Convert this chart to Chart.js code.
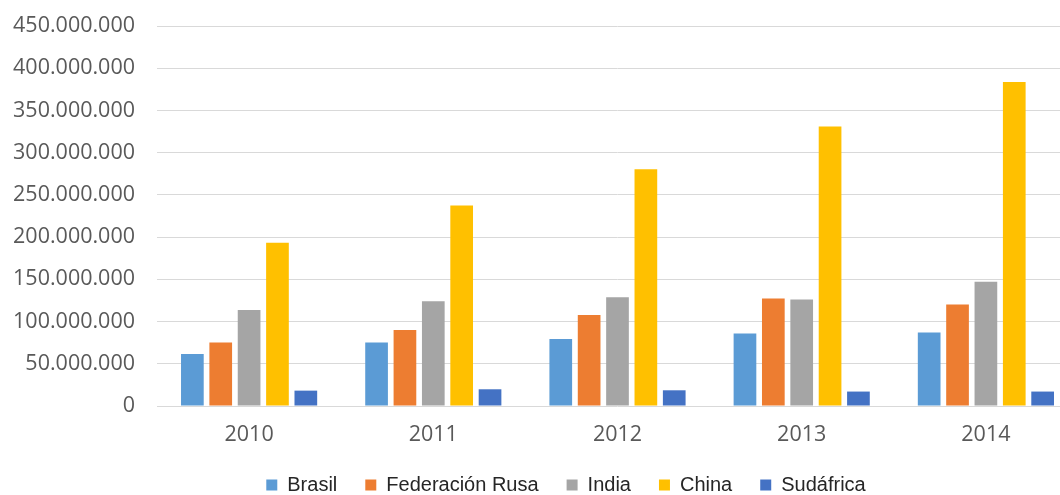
<!DOCTYPE html>
<html>
<head>
<meta charset="utf-8">
<script src="https://cdn.jsdelivr.net/npm/chart.js@4/dist/chart.umd.min.js"></script>
<style>
    html, body { margin: 0; padding: 0; background: #fff; overflow: hidden; }
    #wrap { width: 1080px; height: 495px; position: relative; }
</style>
</head>
<body>
<div id="wrap"><canvas id="bricsChart"></canvas></div>
<script>
const years = ['2010', '2011', '2012', '2013', '2014'];
const brasil = [61600000, 75100000, 79400000, 85800000, 87000000];
const rusia = [75100000, 90100000, 107800000, 127300000, 120200000];
const india = [113800000, 124100000, 128800000, 126100000, 147000000];
const china = [193200000, 237500000, 280500000, 331100000, 383600000];
const sudafrica = [18200000, 19800000, 18600000, 17100000, 17100000];

// thousands separated with dots
function formatNumber(v) {
    return String(Math.round(v)).replace(/\B(?=(\d{3})+(?!\d))/g, '.');
}

function series(label, data, color) {
    return {
        label: label,
        data: data,
        backgroundColor: color,
        borderColor: color,
        borderWidth: 0,
        categoryPercentage: 0.77,
        barPercentage: 0.8,
    };
}

// the legend sits a little right of the page centre
const legendShift = {
    id: 'legendShift',
    afterLayout(chart) {
        if (chart.legend) {
            chart.legend.left += 54;
        }
    },
};

const ctx = document.getElementById('bricsChart').getContext('2d');
const bricsChart = new Chart(ctx, {
    type: 'bar',
    data: {
        labels: years,
        datasets: [
            series('Brasil', brasil, '#5B9BD5'),
            series('Federación Rusa', rusia, '#ED7D31'),
            series('India', india, '#A5A5A5'),
            series('China', china, '#FFC000'),
            series('Sudáfrica', sudafrica, '#4472C4'),
        ],
    },
    options: {
        responsive: true,
        maintainAspectRatio: false,
        animation: false,
        layout: {
            padding: { top: 26, left: 0, right: 2, bottom: -10 },
        },
        plugins: {
            tooltip: { enabled: false },
            legend: {
                position: 'bottom',
                labels: {
                    boxWidth: 11,
                    boxHeight: 11,
                    padding: 28,
                    color: '#262626',
                    font: { family: 'Liberation Sans, Arial, sans-serif', size: 20 },
                },
            },
        },
        scales: {
            x: {
                afterFit: (scale) => { scale.height = 41; },
                grid: { display: false, drawTicks: false },
                border: { display: false },
                ticks: {
                    padding: 16,
                    color: '#595959',
                    font: { family: 'Open Sans, sans-serif', size: 21.5 },
                },
            },
            y: {
                min: 0,
                max: 450000000,
                afterFit: (scale) => {
                    scale.width = 157;
                    scale.paddingTop = 0;
                    scale.paddingBottom = 0;
                },
                grid: { color: '#d9d9d9', lineWidth: 1, drawTicks: false },
                border: { display: false },
                ticks: {
                    stepSize: 50000000,
                    padding: 22,
                    color: '#595959',
                    font: { family: 'Open Sans, sans-serif', size: 21.5 },
                    callback: (v) => formatNumber(v),
                },
            },
        },
    },
    plugins: [legendShift],
});
</script>
</body>
</html>
